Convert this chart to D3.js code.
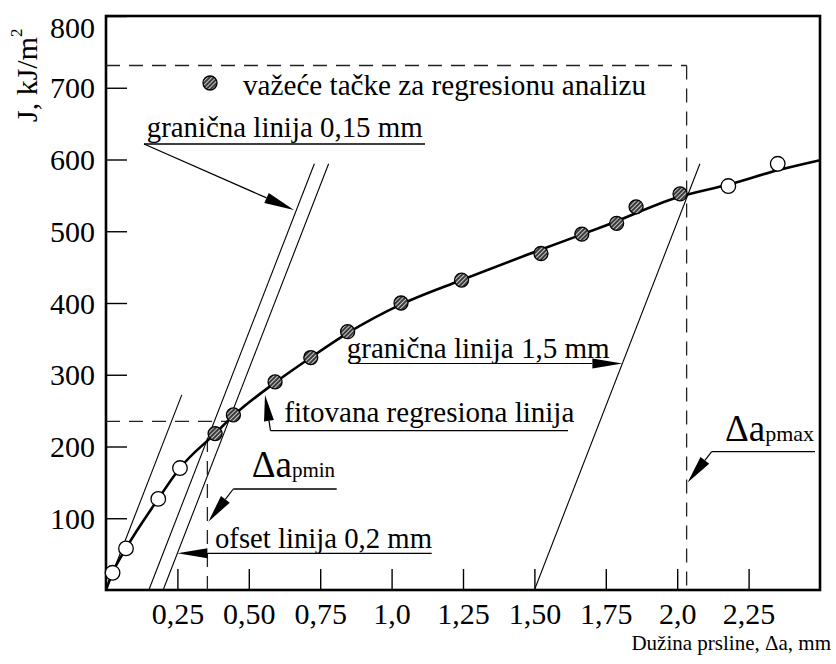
<!DOCTYPE html>
<html><head><meta charset="utf-8">
<script src="https://cdn.jsdelivr.net/npm/d3@7"></script>
<style>body{margin:0;background:#fff}svg{display:block}text{font-family:"Liberation Serif","Times New Roman",serif;fill:#000}</style>
</head><body><svg id="c" width="836" height="664"></svg>
<script>
// ---- data ----
const xTicks = [0.25, 0.5, 0.75, 1.0, 1.25, 1.5, 1.75, 2.0, 2.25];
const xTickLabels = ["0,25", "0,50", "0,75", "1,0", "1,25", "1,50", "1,75", "2,0", "2,25"];
const yTicks = [100, 200, 300, 400, 500, 600, 700, 800];
// valid points for regression (hatched)
const validDa = [0.382, 0.446, 0.592, 0.717, 0.846, 1.033, 1.245, 1.523, 1.666, 1.788, 1.856, 2.010];
const validJ  = [218, 244, 290, 324, 360, 400, 432, 469, 496, 511, 534, 552];
// excluded points (open)
const openDa = [0.023, 0.070, 0.183, 0.259, 2.179, 2.352];
const openJ  = [24, 58, 127, 170, 563, 594];
// fitted regression line
const curveDa = [0, 0.023, 0.07, 0.183, 0.259, 0.382, 0.446, 0.592, 0.717, 0.846, 1.033, 1.245, 1.5, 1.75, 2.0, 2.179, 2.352, 2.5];
const curveJ  = [0, 24, 58, 127, 170, 218, 243, 289, 324, 358, 398, 432, 471, 508, 547, 565, 585, 599];
// construction lines: slope (blunting), offsets
const bluntSlope = 1025;
const bluntTopJ = 272;
const lineOffsets = [0.15, 0.2, 1.5];
const lineTopJ = 594;
const daMin = 0.355, daMax = 2.033, jMax = 731, jQ = 235, daQ = 0.429;

// ---- chart ----
const svg = d3.select("#c");
const x = d3.scaleLinear().domain([0, 2.5]).range([106, 820]);
const y = d3.scaleLinear().domain([0, 800]).range([590, 16]);
const FONT = '"Liberation Serif","Times New Roman",serif';

const defs = svg.append("defs");
const pat = defs.append("pattern").attr("id", "hatch").attr("patternUnits", "userSpaceOnUse")
  .attr("width", 3).attr("height", 3).attr("patternTransform", "rotate(45)");
pat.append("rect").attr("width", 3).attr("height", 3).attr("fill", "#3a3a3a");
pat.append("line").attr("x1", 0.5).attr("y1", 0).attr("x2", 0.5).attr("y2", 3).attr("stroke", "#c8c8c8").attr("stroke-width", 1);

// axes
const ya = svg.append("g").attr("transform", `translate(${x(0)},0)`)
  .call(d3.axisLeft(y).tickValues(yTicks).tickSize(-21).tickPadding(11).tickFormat(d3.format("d")));
ya.attr("font-family", FONT);
ya.select(".domain").remove();
ya.selectAll(".tick line").attr("stroke", "#000").attr("stroke-width", 1.4);
ya.selectAll(".tick text").attr("font-size", 30).attr("font-family", FONT).attr("dy", "0.34em");
ya.selectAll(".tick").filter(d => d === 800).select("text").attr("y", 11);

const xa = svg.append("g").attr("transform", `translate(0,${y(0)})`)
  .call(d3.axisBottom(x).tickValues(xTicks).tickSize(-21).tickPadding(13).tickFormat((d, i) => xTickLabels[i]));
xa.attr("font-family", FONT);
xa.select(".domain").remove();
xa.selectAll(".tick line").attr("stroke", "#000").attr("stroke-width", 1.4);
xa.selectAll(".tick text").attr("font-size", 30).attr("font-family", FONT);

// frame
svg.append("rect").attr("x", x(0)).attr("y", y(800)).attr("width", x(2.5) - x(0)).attr("height", y(0) - y(800))
  .attr("fill", "none").attr("stroke", "#000").attr("stroke-width", 2.6);

// axis titles
svg.append("text").attr("x", 831).attr("y", 650).attr("text-anchor", "end").attr("font-size", 21)
  .text("Dužina prsline, Δa, mm");
const yt = svg.append("text").attr("transform", "translate(37,122) rotate(-90)").attr("font-size", 30);
yt.append("tspan").text("J, kJ/m");
yt.append("tspan").attr("font-size", 17).attr("dy", -15).text("2");

// construction lines
const g = svg.append("g");
g.append("line").attr("x1", x(0)).attr("y1", y(0)).attr("x2", x(bluntTopJ / bluntSlope)).attr("y2", y(bluntTopJ))
  .attr("stroke", "#000").attr("stroke-width", 1.1);
lineOffsets.forEach(o => {
  g.append("line").attr("x1", x(o)).attr("y1", y(0)).attr("x2", x(o + lineTopJ / bluntSlope)).attr("y2", y(lineTopJ))
    .attr("stroke", "#000").attr("stroke-width", 1.1);
});

// dashed lines
const dash = "14,9";
const dl = (x1, y1, x2, y2) => g.append("line").attr("x1", x1).attr("y1", y1).attr("x2", x2).attr("y2", y2)
  .attr("stroke", "#222").attr("stroke-width", 1.3).attr("stroke-dasharray", dash);
dl(x(0), y(jMax), x(daMax), y(jMax));
dl(x(daMax), y(jMax), x(daMax), y(0));
dl(x(0), y(jQ), x(daQ), y(jQ));
dl(x(daMin), y(212), x(daMin), y(0));

// fitted curve
const line = d3.line().x(d => x(d[0])).y(d => y(d[1])).curve(d3.curveMonotoneX);
svg.append("path").datum(curveDa.map((d, i) => [d, curveJ[i]])).attr("d", line)
  .attr("fill", "none").attr("stroke", "#000").attr("stroke-width", 2.6);

// points
svg.append("g").selectAll("circle").data(openDa.map((d, i) => [d, openJ[i]])).join("circle")
  .attr("cx", d => x(d[0])).attr("cy", d => y(d[1])).attr("r", 7.3)
  .attr("fill", "#fff").attr("stroke", "#000").attr("stroke-width", 1.3);
svg.append("g").selectAll("circle").data(validDa.map((d, i) => [d, validJ[i]])).join("circle")
  .attr("cx", d => x(d[0])).attr("cy", d => y(d[1])).attr("r", 7)
  .attr("fill", "url(#hatch)").attr("stroke", "#000").attr("stroke-width", 1.3);

// legend
svg.append("circle").attr("cx", 210).attr("cy", 83).attr("r", 7).attr("fill", "url(#hatch)").attr("stroke", "#000").attr("stroke-width", 1.3);
svg.append("text").attr("x", 243).attr("y", 95).attr("font-size", 29).attr("textLength", 403)
  .attr("lengthAdjust", "spacingAndGlyphs").text("važeće tačke za regresionu analizu");

// annotation helpers
const ann = svg.append("g");
function seg(pts, w) {
  ann.append("path").attr("d", d3.line()(pts)).attr("fill", "none").attr("stroke", "#000").attr("stroke-width", w || 1.2);
}
function arrow(x1, y1, x2, y2, L, hw) {
  L = L || 28; hw = hw || 5;
  const dx = x2 - x1, dy = y2 - y1, len = Math.hypot(dx, dy), ux = dx / len, uy = dy / len;
  const bx = x2 - ux * L, by = y2 - uy * L;
  seg([[x1, y1], [bx, by]]);
  ann.append("path").attr("d", `M${x2},${y2}L${bx - uy * hw},${by + ux * hw}L${bx + uy * hw},${by - ux * hw}Z`).attr("fill", "#000");
}
function label(tx, ty, str, size, len) {
  const t = ann.append("text").attr("x", tx).attr("y", ty).attr("font-size", size).text(str);
  if (len) t.attr("textLength", len).attr("lengthAdjust", "spacingAndGlyphs");
  return t;
}

// granična linija 0,15 mm
label(146.7, 136.7, "granična linija 0,15 mm", 29, 276);
seg([[144, 144], [425, 144]], 1.3);
arrow(144, 144, 294, 210, 30, 5.5);

// granična linija 1,5 mm
label(346.7, 358.3, "granična linija 1,5 mm", 29, 263);
arrow(350, 363.5, x(1.5 + y.invert(363.5) / bluntSlope), 363.5, 30, 5);

// fitovana regresiona linija
label(284.3, 421.7, "fitovana regresiona linija", 29, 290);
seg([[270.5, 430.7], [568, 430.7]], 1.3);
arrow(270.5, 430.7, 265, 395, 26, 5);

// Δa pmin
const t1 = ann.append("text").attr("x", 251.7).attr("y", 477.3).attr("font-size", 37);
t1.append("tspan").text("Δa");
t1.append("tspan").attr("font-size", 21).text("pmin");
seg([[336.7, 489], [233.3, 489]], 1.3);
arrow(233.3, 489, x(daMin) + 1, 521.7, 28, 5.5);

// ofset linija 0,2 mm
label(215, 548.3, "ofset linija 0,2 mm", 29, 217);
seg([[x(daMin), 553.3], [431.7, 553.3]], 1.3);
arrow(x(daMin), 553.3, x(0.2 + y.invert(553.3) / bluntSlope), 553.3, 30, 5);

// Δa pmax
const t2 = ann.append("text").attr("x", 725).attr("y", 440.7).attr("font-size", 37);
t2.append("tspan").text("Δa");
t2.append("tspan").attr("font-size", 22).text("pmax");
seg([[815, 451.7], [711.7, 451.7]], 1.3);
arrow(711.7, 451.7, x(daMax) + 1, 482.5, 28, 5.5);
</script></body></html>
